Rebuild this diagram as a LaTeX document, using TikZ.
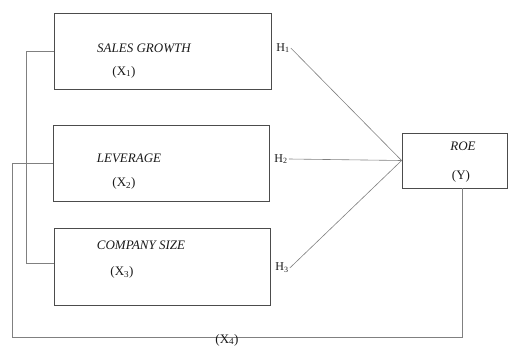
\documentclass[tikz,border=0pt]{standalone}
\usepackage{fontspec}
\setmainfont{Liberation Serif}
\newcommand\subidx[1]{\textsubscript{#1}}
\tikzset{
  varbox/.style={draw=black!70, line width=0.8pt, inner sep=0pt},
  lbl/.style={font=\fontsize{13}{15}\selectfont\itshape, text=black!90, inner sep=0pt},
  code/.style={font=\fontsize{13}{15}\selectfont, text=black!90, inner sep=0pt},
  hyp/.style={font=\fontsize{12}{14}\selectfont, text=black!90, inner sep=1pt},
  link/.style={draw=black!50, line width=0.6pt}
}
\begin{document}
\begin{tikzpicture}[x=1pt,y=-1pt]
\useasboundingbox (0,0) rectangle (508,347);

% independent variables
\node[varbox, minimum width=217pt, minimum height=76pt] (b1) at (162.5,51) {};
\node[varbox, minimum width=216pt, minimum height=76pt] (b2) at (161,163) {};
\node[varbox, minimum width=216pt, minimum height=77pt] (b3) at (162,266.5) {};
% dependent variable
\node[varbox, minimum width=105pt, minimum height=55pt] (roe) at (454.5,160.5) {};

\node[lbl] (t1) at (144,48) {SALES GROWTH};
\node[code] (x1) at (124,72) {(X\subidx{1})};
\node[lbl] (t2) at (129,158) {LEVERAGE};
\node[code] (x2) at (124,183) {(X\subidx{2})};
\node[lbl] (t3) at (141,245) {COMPANY SIZE};
\node[code] (x3) at (122,272) {(X\subidx{3})};
\node[lbl] (ty) at (463,146) {ROE};
\node[code] (y) at (461,176) {(Y)};

% hypotheses
\node[hyp] (h1) at (283,48) {H\subidx{1}};
\node[hyp] (h2) at (281,159) {H\subidx{2}};
\node[hyp] (h3) at (282,268) {H\subidx{3}};

\draw[link] (h1.east) -- (roe.west);
\draw[link] (h2.east) -- (roe.west);
\draw[link] (h3.east) -- (roe.west);

% bracket joining X1 and X3
\coordinate (c1) at (26,51);
\coordinate (c3) at (26,263);
\draw[link] (b1.west) -- (c1) -- (c3) -- (c3 -| b3.west);

% moderating path X4
\coordinate (d1) at (12,163);
\coordinate (d2) at (12,337);
\coordinate (d3) at (462,337);
\draw[link] (b2.west) -- (d1) -- (d2) -- (d3) -- (d3 |- roe.south);
\node[code] (x4) at (227,340) {(X\subidx{4})};
\end{tikzpicture}
\end{document}
